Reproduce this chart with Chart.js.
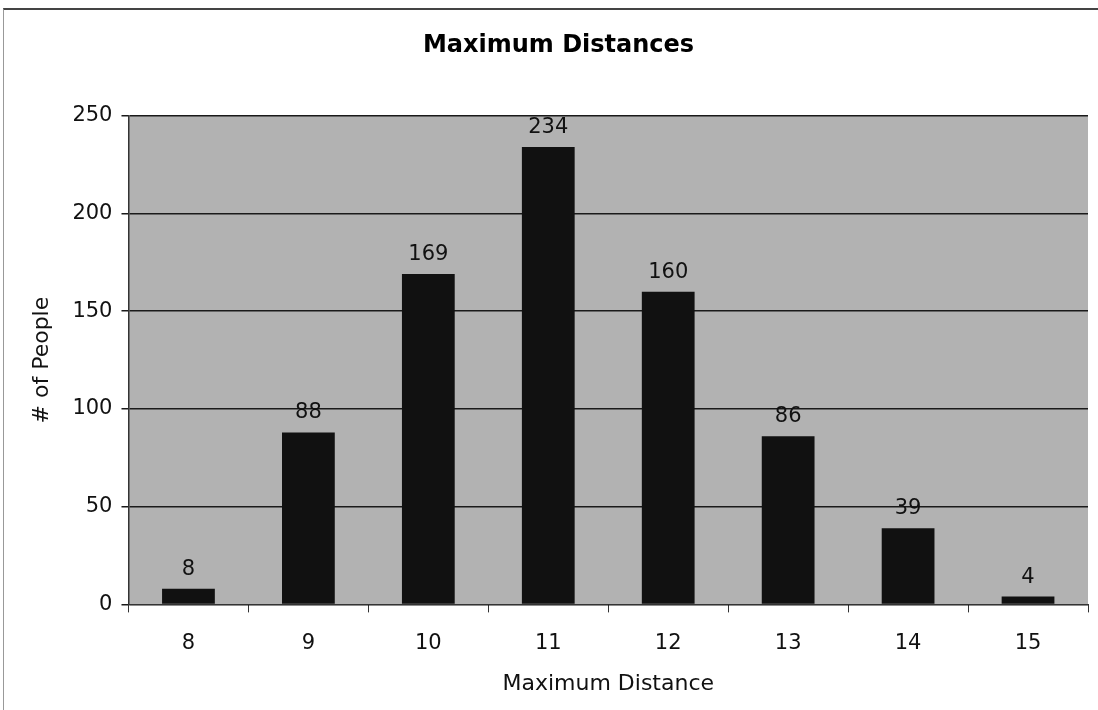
<!DOCTYPE html>
<html>
<head>
<meta charset="utf-8">
<script src="https://cdn.jsdelivr.net/npm/chart.js@4/dist/chart.umd.min.js"></script>
<style>
  html, body { margin: 0; padding: 0; background: #fff; }
  #wrap { position: relative; width: 1098px; height: 710px; }
  #frame { position: absolute; left: 3px; top: 8px; width: 1095px; height: 702px;
           border-left: 1px solid #999; border-top: 2px solid #444; box-sizing: border-box; }
  canvas { position: absolute; left: 0; top: 0; }
</style>
</head>
<body>
<div id="wrap">
  <div id="frame"></div>
  <canvas id="chart" width="1098" height="710"></canvas>
</div>
<script>
// data
var distances = ['8', '9', '10', '11', '12', '13', '14', '15'];
var people = [8, 88, 169, 234, 160, 86, 39, 4];
var yTicks = [0, 50, 100, 150, 200, 250];

var fontFam = '"DejaVu Sans", Verdana, sans-serif';

var plotBackground = {
  id: 'plotBackground',
  beforeDraw: function(chart) {
    var a = chart.chartArea, ctx = chart.ctx;
    ctx.save();
    ctx.fillStyle = '#b2b2b2';
    ctx.fillRect(a.left, a.top, a.right - a.left, a.bottom - a.top);
    ctx.restore();
  }
};

var barLabels = {
  id: 'barLabels',
  afterDatasetsDraw: function(chart) {
    var ctx = chart.ctx;
    var meta = chart.getDatasetMeta(0);
    ctx.save();
    ctx.font = '21px ' + fontFam;
    ctx.fillStyle = '#111';
    ctx.textAlign = 'center';
    ctx.textBaseline = 'bottom';
    meta.data.forEach(function(bar, i) {
      ctx.fillText(String(people[i]), bar.x, bar.y - 9);
    });
    ctx.restore();
  }
};

var ctx = document.getElementById('chart').getContext('2d');
new Chart(ctx, {
  type: 'bar',
  data: {
    labels: distances,
    datasets: [{
      data: people,
      backgroundColor: '#111111',
      borderWidth: 0,
      categoryPercentage: 1,
      barPercentage: 0.44
    }]
  },
  options: {
    responsive: false,
    animation: false,
    layout: { padding: { left: 29, right: 10, top: 10, bottom: 13 } },
    plugins: {
      legend: { display: false },
      tooltip: { enabled: false },
      title: {
        display: true,
        text: 'Maximum Distances',
        color: '#000',
        font: { family: fontFam, size: 24, weight: 'bold' },
        padding: { top: 21, bottom: 56 }
      }
    },
    scales: {
      x: {
        offset: true,
        grid: { display: true, drawOnChartArea: false, drawTicks: true, tickLength: 8, color: '#333', offset: true },
        border: { color: '#333', width: 1 },
        ticks: { color: '#111', padding: 19, font: { family: fontFam, size: 21 } },
        title: { display: true, text: 'Maximum Distance', color: '#111', padding: { top: -5, bottom: 0 },
                 font: { family: fontFam, size: 22 } }
      },
      y: {
        min: 0,
        max: 250,
        afterBuildTicks: function(axis) {
          axis.ticks = yTicks.map(function(v) { return { value: v }; });
        },
        grid: { color: '#1a1a1a', lineWidth: 1.5, tickLength: 7, drawTicks: true },
        border: { color: '#333', width: 1.5 },
        ticks: { color: '#111', padding: 9, font: { family: fontFam, size: 21 } },
        title: { display: true, text: '# of People', color: '#111', padding: { top: 0, bottom: 8 },
                 font: { family: fontFam, size: 22 } }
      }
    }
  },
  plugins: [plotBackground, barLabels]
});
</script>
</body>
</html>
